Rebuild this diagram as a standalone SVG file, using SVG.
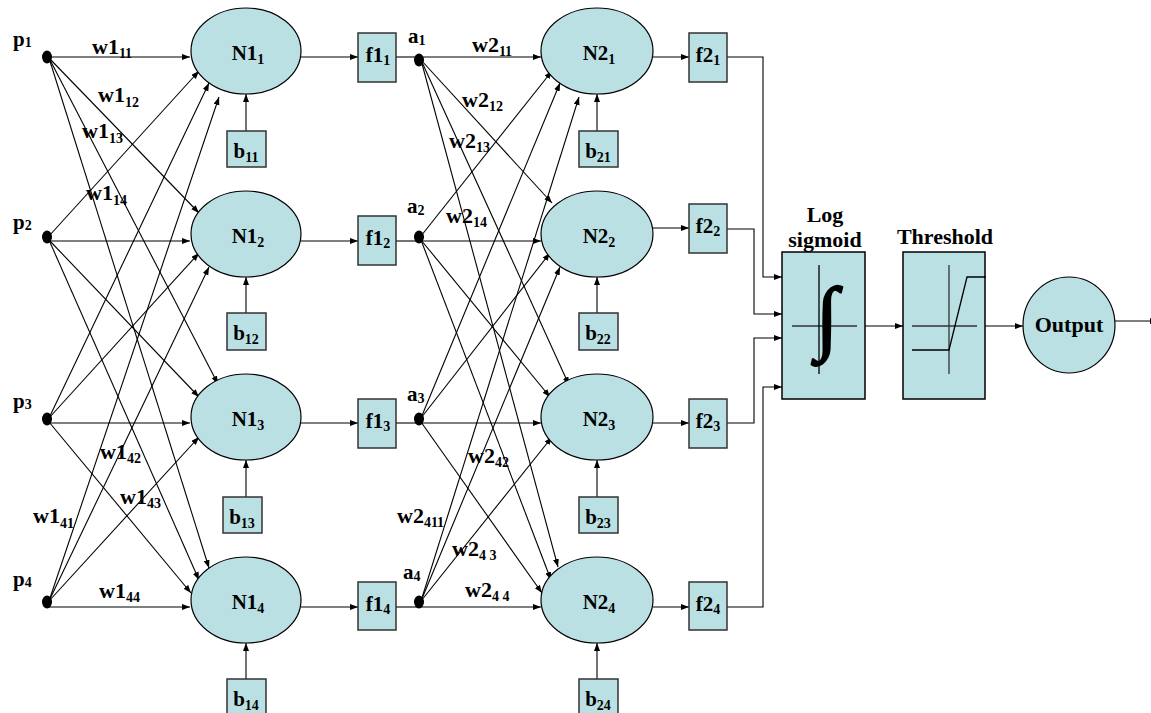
<svg xmlns="http://www.w3.org/2000/svg" width="1151" height="713" viewBox="0 0 1151 713" font-family="'Liberation Serif', 'Times New Roman', serif" font-weight="bold">
<style>
.t{font-size:21px;fill:#000}
.w{font-size:22px}
.h{font-size:22px}
.s{font-size:14px}
.m{text-anchor:middle}
.node{fill:#bbe0e3;stroke:#000;stroke-width:1.2}
.box{fill:#bbe0e3;stroke:#333;stroke-width:1.5}
.dot{fill:#000}
.c line,.c polyline{stroke:#000;stroke-width:1.1;fill:none}
.ax{stroke:#333;stroke-width:1.3;fill:none}
</style>
<defs>
<marker id="ar" markerUnits="userSpaceOnUse" markerWidth="9" markerHeight="7" refX="8" refY="3" orient="auto">
<path d="M0,0 L8,3 L0,6 z" fill="#000"/>
</marker>
</defs>

<g id="connectors" class="c">
<line x1="49" y1="57" x2="190" y2="57" marker-end="url(#ar)"/>
<line x1="49" y1="58" x2="199" y2="213" marker-end="url(#ar)"/>
<line x1="49" y1="58" x2="218" y2="384" marker-end="url(#ar)"/>
<line x1="49" y1="58" x2="209" y2="568" marker-end="url(#ar)"/>
<line x1="49" y1="236" x2="199" y2="71" marker-end="url(#ar)"/>
<line x1="49" y1="241" x2="190" y2="241" marker-end="url(#ar)"/>
<line x1="49" y1="240" x2="199" y2="397" marker-end="url(#ar)"/>
<line x1="49" y1="240" x2="199" y2="580" marker-end="url(#ar)"/>
<line x1="49" y1="418" x2="209" y2="83" marker-end="url(#ar)"/>
<line x1="49" y1="418" x2="199" y2="253" marker-end="url(#ar)"/>
<line x1="49" y1="423" x2="190" y2="423" marker-end="url(#ar)"/>
<line x1="49" y1="422" x2="191" y2="593" marker-end="url(#ar)"/>
<line x1="49" y1="601" x2="219" y2="97" marker-end="url(#ar)"/>
<line x1="49" y1="601" x2="209" y2="267" marker-end="url(#ar)"/>
<line x1="49" y1="601" x2="199" y2="437" marker-end="url(#ar)"/>
<line x1="49" y1="607" x2="190" y2="607" marker-end="url(#ar)"/>
<line x1="301" y1="57" x2="358" y2="57" marker-end="url(#ar)"/>
<line x1="301" y1="241" x2="358" y2="241" marker-end="url(#ar)"/>
<line x1="301" y1="423" x2="358" y2="423" marker-end="url(#ar)"/>
<line x1="301" y1="607" x2="358" y2="607" marker-end="url(#ar)"/>
<line x1="396" y1="57" x2="418" y2="57"/>
<line x1="396" y1="241" x2="418" y2="241"/>
<line x1="396" y1="423" x2="418" y2="423"/>
<line x1="396" y1="607" x2="418" y2="607"/>
<line x1="246" y1="131" x2="246" y2="94" marker-end="url(#ar)"/>
<line x1="246" y1="313" x2="246" y2="277" marker-end="url(#ar)"/>
<line x1="246" y1="497" x2="246" y2="460" marker-end="url(#ar)"/>
<line x1="246" y1="679" x2="246" y2="643" marker-end="url(#ar)"/>
<line x1="421" y1="57" x2="541" y2="57" marker-end="url(#ar)"/>
<line x1="421" y1="60" x2="552" y2="203" marker-end="url(#ar)"/>
<line x1="421" y1="60" x2="569" y2="385" marker-end="url(#ar)"/>
<line x1="421" y1="60" x2="558" y2="567" marker-end="url(#ar)"/>
<line x1="421" y1="236" x2="552" y2="71" marker-end="url(#ar)"/>
<line x1="421" y1="241" x2="541" y2="241" marker-end="url(#ar)"/>
<line x1="421" y1="240" x2="550" y2="397" marker-end="url(#ar)"/>
<line x1="421" y1="240" x2="551" y2="580" marker-end="url(#ar)"/>
<line x1="421" y1="418" x2="560" y2="83" marker-end="url(#ar)"/>
<line x1="421" y1="418" x2="550" y2="253" marker-end="url(#ar)"/>
<line x1="421" y1="423" x2="541" y2="423" marker-end="url(#ar)"/>
<line x1="421" y1="422" x2="542" y2="593" marker-end="url(#ar)"/>
<line x1="421" y1="601" x2="579" y2="97" marker-end="url(#ar)"/>
<line x1="421" y1="601" x2="560" y2="267" marker-end="url(#ar)"/>
<line x1="421" y1="601" x2="552" y2="437" marker-end="url(#ar)"/>
<line x1="421" y1="607" x2="541" y2="607" marker-end="url(#ar)"/>
<line x1="653" y1="57" x2="689" y2="57" marker-end="url(#ar)"/>
<line x1="653" y1="228" x2="689" y2="228" marker-end="url(#ar)"/>
<line x1="653" y1="423" x2="689" y2="423" marker-end="url(#ar)"/>
<line x1="653" y1="607" x2="689" y2="607" marker-end="url(#ar)"/>
<line x1="597" y1="131" x2="597" y2="94" marker-end="url(#ar)"/>
<line x1="597" y1="313" x2="597" y2="277" marker-end="url(#ar)"/>
<line x1="597" y1="497" x2="597" y2="460" marker-end="url(#ar)"/>
<line x1="597" y1="679" x2="597" y2="643" marker-end="url(#ar)"/>
<polyline points="727,57 763,57 763,277 782,277" marker-end="url(#ar)"/>
<polyline points="727,229 754,229 754,314 782,314" marker-end="url(#ar)"/>
<polyline points="727,423 754,423 754,338 782,338" marker-end="url(#ar)"/>
<polyline points="727,607 763,607 763,387 782,387" marker-end="url(#ar)"/>
<line x1="865" y1="326" x2="903" y2="326" marker-end="url(#ar)"/>
<line x1="985" y1="326" x2="1023" y2="326" marker-end="url(#ar)"/>
<line x1="1115" y1="321" x2="1158" y2="321" marker-end="url(#ar)"/>
</g>

<g id="p1"><ellipse class="dot" cx="47" cy="57" rx="5" ry="6.5"/><text class="t" x="13" y="46">p<tspan class="s" dy="1">1</tspan></text></g>
<g id="p2"><ellipse class="dot" cx="47" cy="237" rx="5" ry="6.5"/><text class="t" x="13" y="229">p<tspan class="s" dy="1">2</tspan></text></g>
<g id="p3"><ellipse class="dot" cx="47" cy="419" rx="5" ry="6.5"/><text class="t" x="13" y="408">p<tspan class="s" dy="1">3</tspan></text></g>
<g id="p4"><ellipse class="dot" cx="47" cy="602" rx="5" ry="6.5"/><text class="t" x="13" y="586">p<tspan class="s" dy="1">4</tspan></text></g>

<g id="w1-labels">
<text class="t w" x="92" y="54">w1<tspan class="s" dy="4">11</tspan></text>
<text class="t w" x="98" y="102">w1<tspan class="s" dy="5">12</tspan></text>
<text class="t w" x="82" y="138">w1<tspan class="s" dy="5">13</tspan></text>
<text class="t w" x="86" y="200">w1<tspan class="s" dy="5">14</tspan></text>
<text class="t w" x="100" y="459">w1<tspan class="s" dy="4">42</tspan></text>
<text class="t w" x="120" y="504">w1<tspan class="s" dy="4">43</tspan></text>
<text class="t w" x="33" y="523">w1<tspan class="s" dy="5">41</tspan></text>
<text class="t w" x="99" y="598">w1<tspan class="s" dy="4">44</tspan></text>
</g>

<g id="N1_1"><ellipse class="node" cx="246" cy="51" rx="55" ry="43"/><text class="t m" x="248" y="60">N1<tspan class="s" dy="4">1</tspan></text></g>
<g id="N1_2"><ellipse class="node" cx="246" cy="234" rx="55" ry="43"/><text class="t m" x="248" y="243">N1<tspan class="s" dy="4">2</tspan></text></g>
<g id="N1_3"><ellipse class="node" cx="246" cy="417" rx="55" ry="43"/><text class="t m" x="248" y="426">N1<tspan class="s" dy="4">3</tspan></text></g>
<g id="N1_4"><ellipse class="node" cx="246" cy="600" rx="55" ry="43"/><text class="t m" x="248" y="609">N1<tspan class="s" dy="4">4</tspan></text></g>

<g id="b11"><rect class="box" x="227" y="131" width="39" height="36"/><text class="t m" x="246" y="158">b<tspan class="s" dy="4">11</tspan></text></g>
<g id="b12"><rect class="box" x="227" y="313" width="39" height="37"/><text class="t m" x="246" y="340">b<tspan class="s" dy="4">12</tspan></text></g>
<g id="b13"><rect class="box" x="223" y="497" width="39" height="36"/><text class="t m" x="242" y="524">b<tspan class="s" dy="4">13</tspan></text></g>
<g id="b14"><rect class="box" x="227" y="679" width="39" height="36"/><text class="t m" x="246" y="706">b<tspan class="s" dy="4">14</tspan></text></g>

<g id="f1_1"><rect class="box" x="358" y="33" width="38" height="49"/><text class="t m" x="378" y="62">f1<tspan class="s" dy="3">1</tspan></text></g>
<g id="f1_2"><rect class="box" x="358" y="216" width="38" height="49"/><text class="t m" x="378" y="245">f1<tspan class="s" dy="3">2</tspan></text></g>
<g id="f1_3"><rect class="box" x="358" y="399" width="38" height="49"/><text class="t m" x="378" y="428">f1<tspan class="s" dy="3">3</tspan></text></g>
<g id="f1_4"><rect class="box" x="358" y="582" width="38" height="48"/><text class="t m" x="378" y="611">f1<tspan class="s" dy="3">4</tspan></text></g>

<g id="a1"><ellipse class="dot" cx="419" cy="60" rx="5" ry="6.5"/><text class="t" x="408" y="43">a<tspan class="s" dy="2">1</tspan></text></g>
<g id="a2"><ellipse class="dot" cx="419" cy="237" rx="5" ry="6.5"/><text class="t" x="407" y="213">a<tspan class="s" dy="2">2</tspan></text></g>
<g id="a3"><ellipse class="dot" cx="419" cy="419" rx="5" ry="6.5"/><text class="t" x="407" y="401">a<tspan class="s" dy="2">3</tspan></text></g>
<g id="a4"><ellipse class="dot" cx="419" cy="602" rx="5" ry="6.5"/><text class="t" x="403" y="579">a<tspan class="s" dy="2">4</tspan></text></g>

<g id="w2-labels">
<text class="t w" x="472" y="52">w2<tspan class="s" dy="4">11</tspan></text>
<text class="t w" x="462" y="107">w2<tspan class="s" dy="4">12</tspan></text>
<text class="t w" x="449" y="148">w2<tspan class="s" dy="4">13</tspan></text>
<text class="t w" x="446" y="223">w2<tspan class="s" dy="4">14</tspan></text>
<text class="t w" x="468" y="463">w2<tspan class="s" dy="4">42</tspan></text>
<text class="t w" x="397" y="523">w2<tspan class="s" dy="4">411</tspan></text>
<text class="t w" x="452" y="556">w2<tspan class="s" dy="4">4 3</tspan></text>
<text class="t w" x="465" y="597">w2<tspan class="s" dy="4">4 4</tspan></text>
</g>

<g id="N2_1"><ellipse class="node" cx="597" cy="51" rx="56" ry="43"/><text class="t m" x="599" y="60">N2<tspan class="s" dy="4">1</tspan></text></g>
<g id="N2_2"><ellipse class="node" cx="597" cy="234" rx="56" ry="43"/><text class="t m" x="599" y="243">N2<tspan class="s" dy="4">2</tspan></text></g>
<g id="N2_3"><ellipse class="node" cx="597" cy="417" rx="56" ry="43"/><text class="t m" x="599" y="426">N2<tspan class="s" dy="4">3</tspan></text></g>
<g id="N2_4"><ellipse class="node" cx="597" cy="600" rx="56" ry="43"/><text class="t m" x="599" y="609">N2<tspan class="s" dy="4">4</tspan></text></g>

<g id="b21"><rect class="box" x="579" y="131" width="39" height="36"/><text class="t m" x="598" y="158">b<tspan class="s" dy="4">21</tspan></text></g>
<g id="b22"><rect class="box" x="579" y="313" width="39" height="37"/><text class="t m" x="598" y="340">b<tspan class="s" dy="4">22</tspan></text></g>
<g id="b23"><rect class="box" x="579" y="497" width="39" height="36"/><text class="t m" x="598" y="524">b<tspan class="s" dy="4">23</tspan></text></g>
<g id="b24"><rect class="box" x="579" y="679" width="39" height="36"/><text class="t m" x="598" y="706">b<tspan class="s" dy="4">24</tspan></text></g>

<g id="f2_1"><rect class="box" x="689" y="33" width="38" height="49"/><text class="t m" x="708" y="62">f2<tspan class="s" dy="3">1</tspan></text></g>
<g id="f2_2"><rect class="box" x="689" y="204" width="38" height="49"/><text class="t m" x="708" y="233">f2<tspan class="s" dy="3">2</tspan></text></g>
<g id="f2_3"><rect class="box" x="689" y="399" width="38" height="49"/><text class="t m" x="708" y="428">f2<tspan class="s" dy="3">3</tspan></text></g>
<g id="f2_4"><rect class="box" x="689" y="582" width="38" height="48"/><text class="t m" x="708" y="611">f2<tspan class="s" dy="3">4</tspan></text></g>

<g id="logsig">
<text class="t h m" x="825" y="222">Log</text>
<text class="t h m" x="825" y="247">sigmoid</text>
<rect class="box" x="782" y="252" width="83" height="147" style="stroke:#000"/>
<line class="ax" x1="792" y1="326" x2="857" y2="326"/>
<line x1="819" y1="265" x2="819" y2="374" stroke="#000" stroke-width="1.3"/>
<text x="827" y="344" font-size="82" text-anchor="middle" stroke="#000" stroke-width="1.8">∫</text>
</g>

<g id="threshold">
<text class="t h m" x="945" y="244">Threshold</text>
<rect class="box" x="903" y="252" width="82" height="147" style="stroke:#000"/>
<line class="ax" x1="912" y1="326" x2="977" y2="326"/>
<line class="ax" x1="949" y1="265" x2="949" y2="374"/>
<polyline points="912,350 949,350 967,277 986,277" fill="none" stroke="#000" stroke-width="1.3"/>
</g>

<g id="output"><ellipse class="node" cx="1069" cy="325" rx="46" ry="48"/><text class="t h m" x="1069" y="332">Output</text></g>
</svg>
